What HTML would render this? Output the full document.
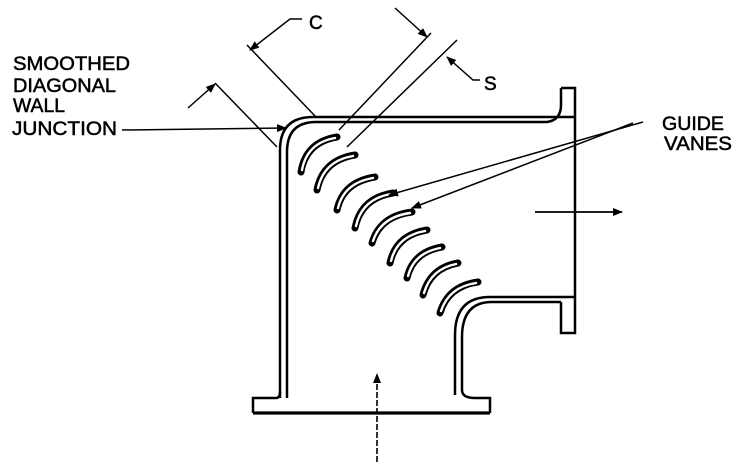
<!DOCTYPE html>
<html><head><style>
html,body{margin:0;padding:0;background:#fff;}
svg{display:block;}
text{font-family:"Liberation Sans",sans-serif;font-size:19px;fill:#000;stroke:#000;stroke-width:0.5;}
</style></head><body>
<svg width="739" height="471" viewBox="0 0 739 471" xmlns="http://www.w3.org/2000/svg">
<defs>
<marker id="a" markerWidth="10" markerHeight="8" refX="9" refY="4" orient="auto" markerUnits="userSpaceOnUse">
<path d="M0,0 L10,4 L0,8 Z" fill="#000"/></marker>
</defs>
<g stroke="#000" fill="none" stroke-width="2.5">
<path d="M280,398 L280,150 Q280,117 313,117 L575,117"/>
<path d="M287,398 L287,152 Q287,122 316,122 L547,122 Q561,120 561,105 L561,88"/>
<path d="M561,88 L575,88 L575,333 L561,333 L561,302"/>
<path d="M575,297 L490,297 Q455,297 455,335 L455,395"/>
<path d="M561,302 L492,302 Q462,302 462,337 L462,390 Q462,398 475,398 L490,398 L490,413"/>
<path d="M253,413 L490,413" stroke-width="3.2"/>
<path d="M253,413 L253,398 L276,398 Q280,398 280,392"/>
</g>
<g stroke="#000" fill="none" stroke-width="7" stroke-linecap="round">
<path d="M301,172 Q306,142 337,137"/>
<path d="M317,190 Q323,160 355,155"/>
<path d="M337,210 Q343,182 375,177"/>
<path d="M355,228 Q361,198 393,193"/>
<path d="M372,243 Q380,216 412,212"/>
<path d="M390,263 Q396,235 427,230"/>
<path d="M407,278 Q413,252 442,247"/>
<path d="M423,295 Q430,268 458,263"/>
<path d="M440,313 Q448,286 478,282"/>
</g>
<g stroke="#fff" fill="none" stroke-width="2.4" stroke-linecap="round">
<path d="M302,170 Q307,143 335,138"/>
<path d="M318,188 Q324,161 353,156"/>
<path d="M338,208 Q344,183 373,178"/>
<path d="M356,226 Q362,199 391,194"/>
<path d="M373,241 Q381,217 410,213"/>
<path d="M391,261 Q397,236 425,231"/>
<path d="M408,276 Q414,253 440,248"/>
<path d="M424,293 Q431,269 456,264"/>
<path d="M441,311 Q449,287 476,283"/>
</g>
<g stroke="#000" fill="none" stroke-width="1.5">
<path d="M247,45 L316,117"/>
<path d="M431,33 L339,130"/>
<path d="M457,40 L347,147"/>
<path d="M215,83 L277,147"/>
<path d="M302,19 L290,19 L250,50" marker-end="url(#a)"/>
<path d="M395,8 L427,37" marker-end="url(#a)"/>
<path d="M480,80 L473,80 L447,57" marker-end="url(#a)"/>
<path d="M188,108 L215,84" marker-end="url(#a)"/>
<path d="M122,130 L286,128" marker-end="url(#a)"/>
<path d="M643,122 L389,195" marker-end="url(#a)"/>
<path d="M633,123 L412,208" marker-end="url(#a)"/>
<path d="M535,212 L622,212" marker-end="url(#a)" stroke-width="1.8"/>
<path d="M377,462 L377,374" marker-end="url(#a)" stroke-width="1.6" stroke-dasharray="6,2"/>
</g>
<text x="13" y="70" textLength="117" lengthAdjust="spacingAndGlyphs">SMOOTHED</text>
<text x="13" y="92" textLength="103" lengthAdjust="spacingAndGlyphs">DIAGONAL</text>
<text x="13" y="112" textLength="52" lengthAdjust="spacingAndGlyphs">WALL</text>
<text x="12" y="135" textLength="105" lengthAdjust="spacingAndGlyphs">JUNCTION</text>
<text x="662" y="130" textLength="62" lengthAdjust="spacingAndGlyphs">GUIDE</text>
<text x="664" y="150" textLength="68" lengthAdjust="spacingAndGlyphs">VANES</text>
<text x="309" y="29">C</text>
<text x="484" y="90">S</text>
</svg>
</body></html>
